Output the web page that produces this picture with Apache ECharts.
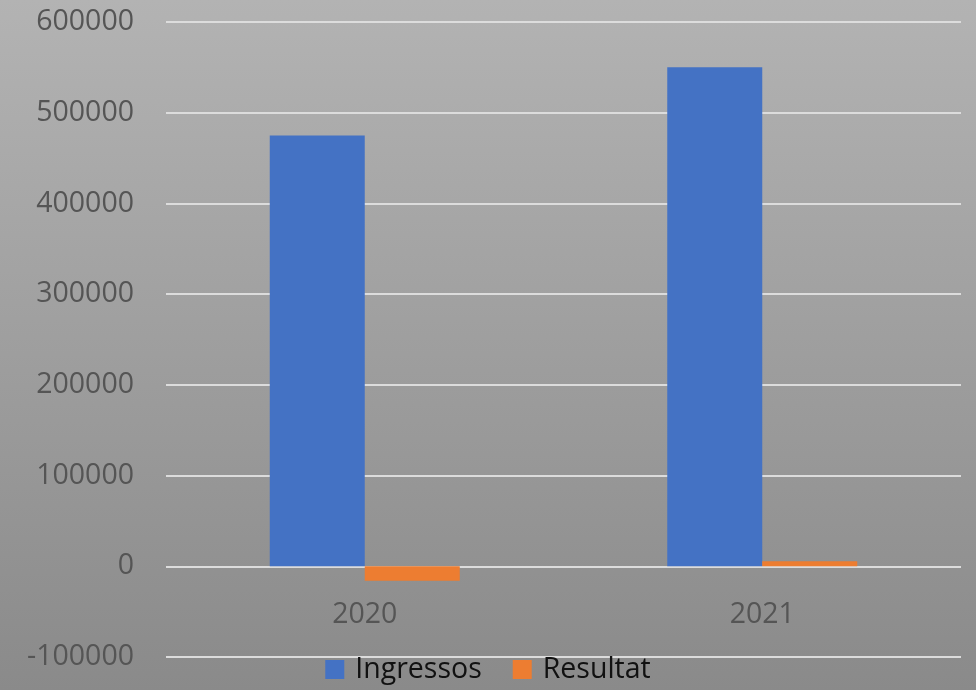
<!DOCTYPE html>
<html>
<head>
<meta charset="utf-8">
<script src="https://cdn.jsdelivr.net/npm/echarts@6/dist/echarts.min.js"></script>
<style>
html,body{margin:0;padding:0;}
#c{width:976px;height:690px;}
</style>
</head>
<body>
<div id="c"></div>
<script>
var categories = ['2020', '2021'];
var ingressos = [475000, 550000];
var resultat = [-16000, 5500];
var seriesNames = ['Ingressos', 'Resultat'];

var chart = echarts.init(document.getElementById('c'), null, {renderer: 'canvas'});
var font = '"Open Sans", "Noto Sans", sans-serif';
chart.setOption({
  animation: false,
  backgroundColor: {
    type: 'linear', x: 0, y: 0, x2: 0, y2: 1,
    colorStops: [{offset: 0, color: '#b3b3b3'}, {offset: 1, color: '#8a8a8a'}]
  },
  grid: {left: 166, right: 15, top: 22, bottom: 33, containLabel: false},
  legend: {
    data: seriesNames,
    bottom: 1,
    left: 'center',
    itemWidth: 19,
    itemHeight: 19,
    itemGap: 31,
    icon: 'rect',
    textStyle: {fontFamily: font, fontSize: 28.5, color: '#111111', padding: [0, 0, 0, 6]}
  },
  xAxis: {
    type: 'category',
    data: categories,
    position: 'bottom',
    axisLine: {show: false, onZero: false},
    axisTick: {show: false},
    axisLabel: {fontFamily: font, fontSize: 28.5, color: '#555555', margin: -57}
  },
  yAxis: {
    type: 'value',
    min: -100000,
    max: 600000,
    interval: 100000,
    axisLine: {show: false},
    axisTick: {show: false},
    axisLabel: {fontFamily: font, fontSize: 28.5, color: '#555555', margin: 32,
      formatter: function (v) { return String(v); }},
    splitLine: {lineStyle: {color: '#dcdcdc', width: 2}}
  },
  series: [
    {name: seriesNames[0], type: 'bar', data: ingressos, barWidth: 95, barGap: '0%',
     itemStyle: {color: '#4472c4'}},
    {name: seriesNames[1], type: 'bar', data: resultat, barWidth: 95, barGap: '0%',
     itemStyle: {color: '#ed7d31'}}
  ]
});
</script>
</body>
</html>
